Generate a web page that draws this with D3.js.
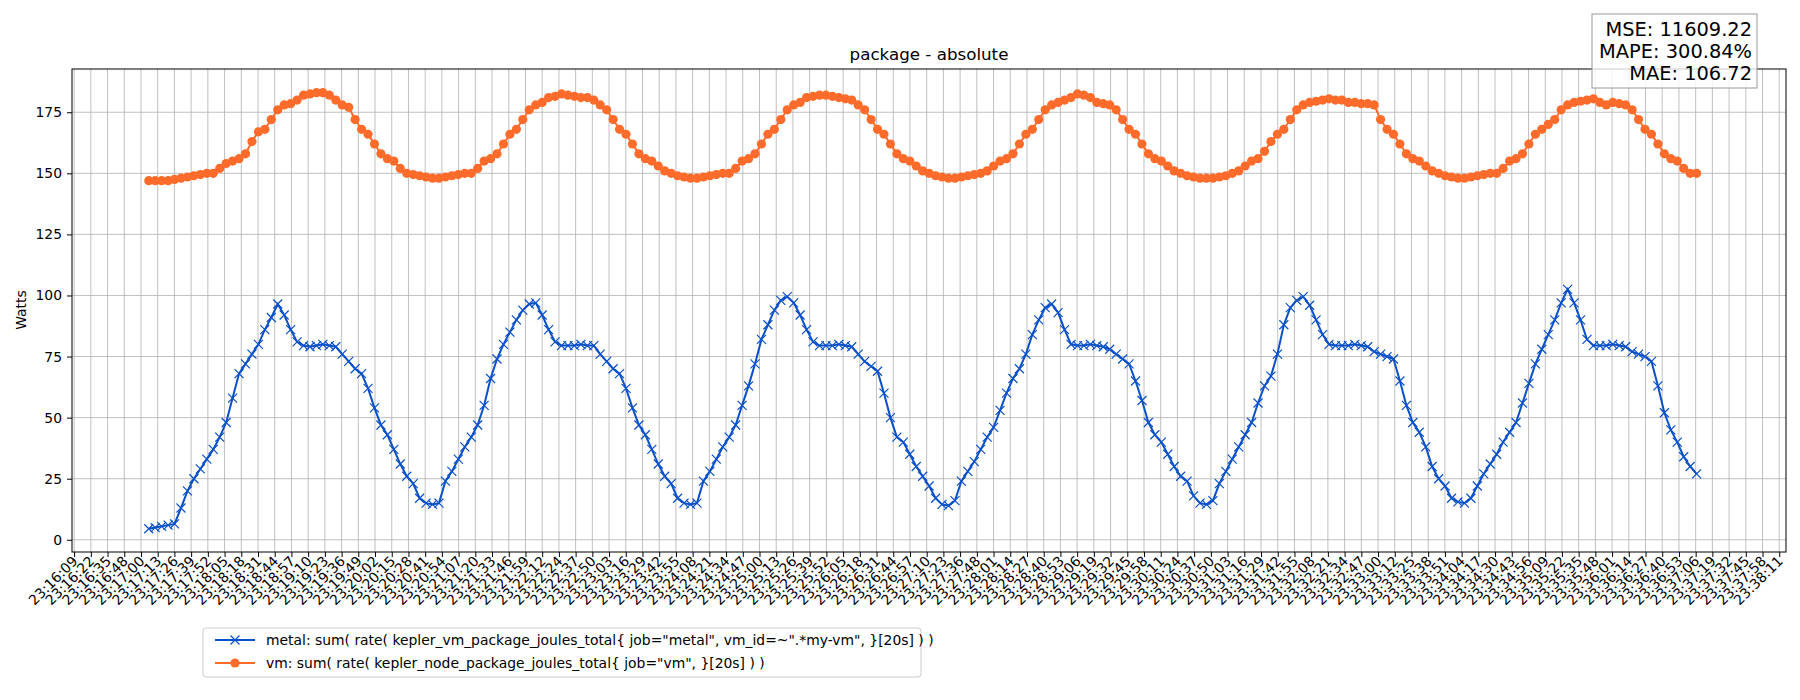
<!DOCTYPE html>
<html>
<head>
<meta charset="utf-8">
<script src="https://cdn.jsdelivr.net/npm/d3@7"></script>
<style>
  body { margin: 0; background: #fff; }
  text { font-family: "DejaVu Sans", sans-serif; }
</style>
</head>
<body>
<div id="viz"></div>
<script>
// samples every 5 s, first one at 23:17:07
const startTime = "23:17:07";
const sampleStep = 5;

const metalValues = [
  4.5,5,5.5,6,6.5,13,20,25,29,33,37,42,48,58,68,72,76,80,86,91,96.5,
  92,86,81,79.5,79,79.5,80,79.5,79,76,73,70,68,62,54,47,43,37,31,26,23,17,15,
  14.5,15,24,28,33,38,42,47,55,66,74,80,85,90,94,96.5,97,92,86,81,79.5,79.5,79.5,80,79.5,79.5,76,73,70,68,62,54,47,43,37,31,26,23,17,15,
  14.5,15,24,28,33,38,42,47,55,63,72,82,88,94,98,99.5,97,92,86,81,79.5,79.5,79.5,80,79.5,79,76,73,71,69,60,50,42,40,35,30,26,22,17,14.5,
  14,16,24,28,32,37,42,46,53,60,66,70,76,84,90,95,96.5,93,86,80,79.5,79.5,80,79.5,79,78,76,74,72,65,57,48,43,40,35,30,26,24,18,15,
  14.5,16,23,28,33,38,43,48,56,63,67,76,88,95,98,99.5,96,90,84,80,79.5,79.5,79.5,80,79.5,79,77,76,75,74,65,55,48,44,38,30,25,22,17,15.5,
  15,17,22,27,31,35,40,44,48,56,64,72,78,84,90,97,102.5,97,90,82,79.5,79.5,79.5,80,79.5,79,77,76,75,73,63,52,45,40,34,30,27
];

const vmValues = [
  147,147,147,147,147.5,148,148.5,149,149.5,150,150,152,154,155,156,158,163,167,168,172,
  176,178,178.5,180,182,182.5,183,183,182,180,178,177,172,168,166,162,158,156,155,152,150,149.5,149,148.5,
  148,148,148.5,149,149.5,150,150,152,155,156,158,162,166,168,172,176,178,179,181,181.5,182.5,182,181.5,181,181,180,178,176,172,168,166,162,158,156,155,153,151,150,149,148.5,
  148,148,148.5,149,149.5,150,150,152,155,156,158,162,166,168,172,176,178,179,181,181.5,182,182,181.5,181,180.5,180,178,176,172,168,166,162,158,156,155,153,151,150,149,148.5,
  148,148,148.5,149,149.5,150,151,153,155,156,158,162,166,168,172,176,178,179,180,181,182.5,182,181,179,178.5,178,176,172,168,166,162,158,156,155,153,151,150,149,148.5,148,
  148,148,148.5,149,150,151,153,155,156,159,163,166,168,172,176,178,179,179.5,180,180.5,180,180,179,179,178.5,178.5,178,172,168,166,162,158,156,155,153,151,150,149,148.5,148,
  148,148.5,149,149.5,150,150,152,155,156,158,162,166,168,170,172,176,178,179,179.5,180,180.5,179,178,179,178.5,178,176,172,168,166,162,158,156,155,152,150,150
];

// x ticks: from 23:16:09.14 onward, 103 ticks, 12.96 s apart
const tickStart = "23:16:09";
const tickOffset = 0.14;
const tickCount = 103;
const tickStep = 12.96;
const yTicks = [0, 25, 50, 75, 100, 125, 150, 175];

const seriesNames = [
  'metal: sum( rate( kepler_vm_package_joules_total{ job="metal", vm_id=~".*my-vm", }[20s] ) )',
  'vm: sum( rate( kepler_node_package_joules_total{ job="vm", }[20s] ) )'
];
const metrics = ["MSE: 11609.22", "MAPE: 300.84%", "MAE: 106.72"];
const blue = "#0a50c8", orange = "#ff6b2b";

const parse = d3.timeParse("%H:%M:%S");
const fmt = d3.timeFormat("%H:%M:%S");
const t0 = parse(tickStart);
const secOf = s => (parse(s) - t0) / 1000;

const width = 1800, height = 700;
const svg = d3.select("#viz").append("svg").attr("width", width).attr("height", height);

const x = d3.scaleLinear().domain([-1.5, 1327.3]).range([72, 1786]);
const y = d3.scaleLinear().domain([-5, 192.7]).range([552, 69]);

const tickSecs = d3.range(tickCount).map(i => tickOffset + i * tickStep);
const firstSec = secOf(startTime);
const metal = metalValues.map((v, i) => ({ s: firstSec + i * sampleStep, v }));
const vm = vmValues.map((v, i) => ({ s: firstSec + i * sampleStep, v }));

// grid
svg.append("g").selectAll("line").data(tickSecs).enter().append("line")
  .attr("x1", d => x(d)).attr("x2", d => x(d)).attr("y1", 69).attr("y2", 552)
  .attr("stroke", "#b0b0b0").attr("stroke-width", 0.8);
svg.append("g").selectAll("line").data(yTicks).enter().append("line")
  .attr("x1", 72).attr("x2", 1786).attr("y1", d => y(d)).attr("y2", d => y(d))
  .attr("stroke", "#b0b0b0").attr("stroke-width", 0.8);

// axes
const xAxis = svg.append("g").attr("transform", "translate(0,552)")
  .call(d3.axisBottom(x).tickValues(tickSecs).tickSize(5)
    .tickFormat(d => fmt(new Date(+t0 + Math.floor(d) * 1000))));
xAxis.select(".domain").remove();
xAxis.selectAll("text")
  .attr("font-size", "13.9px").attr("fill", "#000")
  .attr("text-anchor", "end").attr("dy", 0).attr("y", 0)
  .attr("transform", "translate(4,10) rotate(-45)");

const yAxis = svg.append("g").attr("transform", "translate(72,0)")
  .call(d3.axisLeft(y).tickValues(yTicks).tickSize(5).tickPadding(5));
yAxis.select(".domain").remove();
yAxis.selectAll("text").attr("font-size", "13.9px").attr("fill", "#000");

svg.append("rect").attr("x", 72).attr("y", 69).attr("width", 1714).attr("height", 483)
  .attr("fill", "none").attr("stroke", "#000").attr("stroke-width", 1);

svg.append("text").attr("transform", "translate(26,310) rotate(-90)")
  .attr("text-anchor", "middle").attr("font-size", "13.9px").text("Watts");
svg.append("text").attr("x", 929).attr("y", 60).attr("text-anchor", "middle")
  .attr("font-size", "16.7px").text("package - absolute");

// series
const line = d3.line().x(d => x(d.s)).y(d => y(d.v));
svg.append("path").datum(vm).attr("d", line).attr("fill", "none")
  .attr("stroke", orange).attr("stroke-width", 2);
svg.append("g").selectAll("circle").data(vm).enter().append("circle")
  .attr("cx", d => x(d.s)).attr("cy", d => y(d.v)).attr("r", 4.6).attr("fill", orange);

svg.append("path").datum(metal).attr("d", line).attr("fill", "none")
  .attr("stroke", blue).attr("stroke-width", 2);
const xm = 4.5;
svg.append("g").selectAll("path").data(metal).enter().append("path")
  .attr("d", d => `M${x(d.s)-xm},${y(d.v)-xm}L${x(d.s)+xm},${y(d.v)+xm}M${x(d.s)-xm},${y(d.v)+xm}L${x(d.s)+xm},${y(d.v)-xm}`)
  .attr("stroke", blue).attr("stroke-width", 1.2);

// metrics box
svg.append("rect").attr("x", 1592).attr("y", 14).attr("width", 165).attr("height", 74)
  .attr("fill", "#fff").attr("fill-opacity", 0.8).attr("stroke", "#999").attr("stroke-width", 1);
svg.append("g").selectAll("text").data(metrics).enter().append("text")
  .attr("x", 1752).attr("y", (d, i) => 36 + i * 22).attr("text-anchor", "end")
  .attr("font-size", "19.4px").text(d => d);

// legend
const lg = svg.append("g").attr("transform", "translate(203,628)");
lg.append("rect").attr("width", 718).attr("height", 49).attr("rx", 3)
  .attr("fill", "#fff").attr("stroke", "#ccc");
seriesNames.forEach((name, i) => {
  const ly = 12 + i * 23;
  const c = i === 0 ? blue : orange;
  lg.append("line").attr("x1", 12).attr("x2", 52).attr("y1", ly).attr("y2", ly)
    .attr("stroke", c).attr("stroke-width", 2);
  if (i === 0) {
    lg.append("path").attr("d", `M${32-xm},${ly-xm}L${32+xm},${ly+xm}M${32-xm},${ly+xm}L${32+xm},${ly-xm}`)
      .attr("stroke", c).attr("stroke-width", 1.2);
  } else {
    lg.append("circle").attr("cx", 32).attr("cy", ly).attr("r", 4.6).attr("fill", c);
  }
  lg.append("text").attr("x", 63).attr("y", ly + 5).attr("font-size", "13.9px").text(name);
});
</script>
</body>
</html>
